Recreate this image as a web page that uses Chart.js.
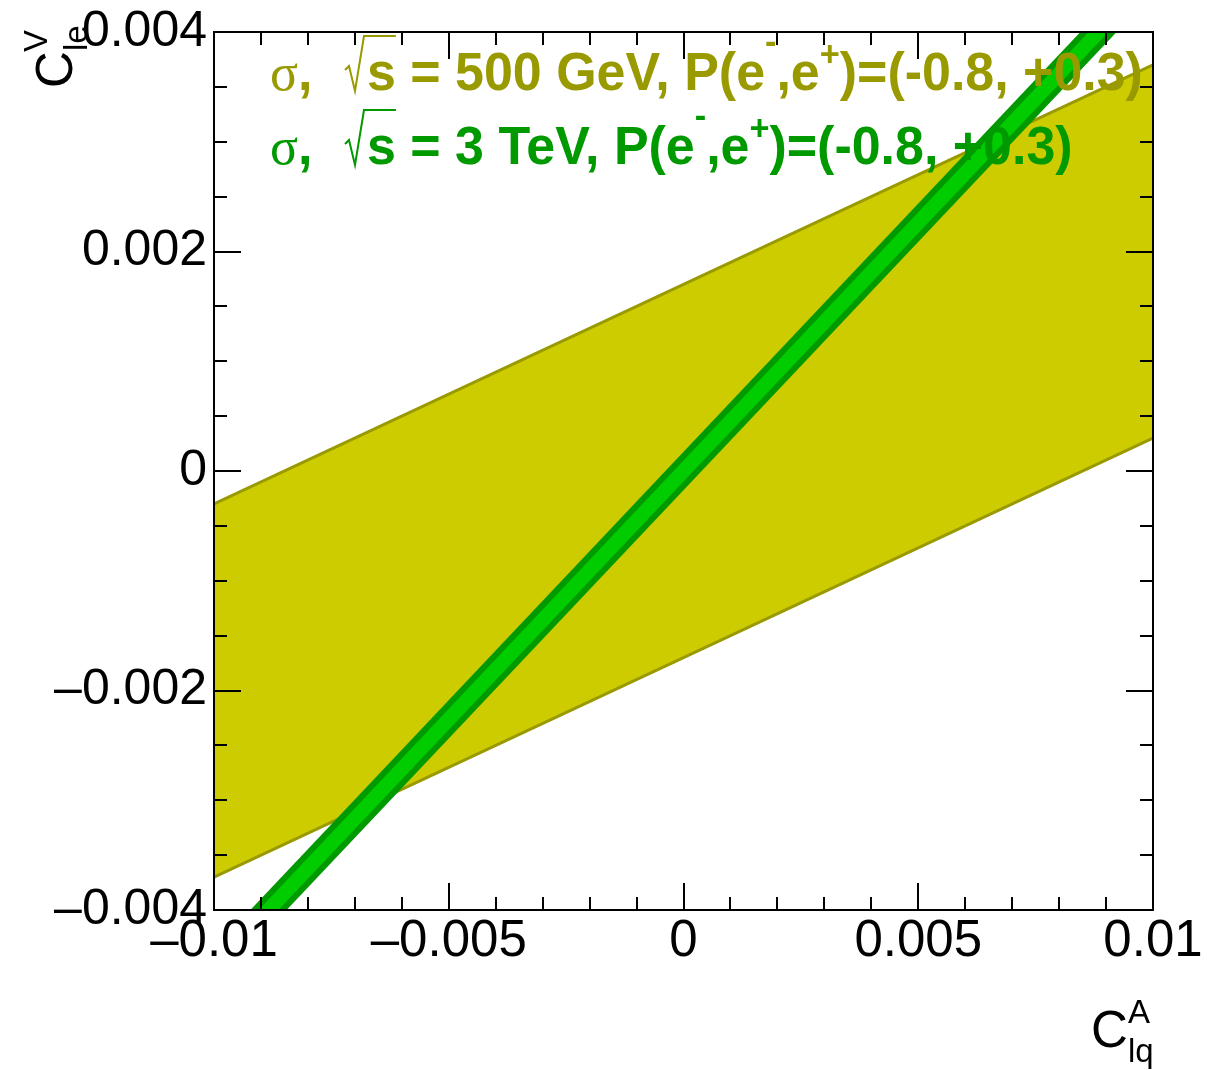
<!DOCTYPE html>
<html>
<head>
<meta charset="utf-8">
<script src="https://cdn.jsdelivr.net/npm/chart.js@4"></script>
<style>
  html, body { margin: 0; padding: 0; background: #fff; }
  #wrap { width: 1231px; height: 1070px; }
</style>
</head>
<body>
<div id="wrap"><canvas id="myChart" width="1231" height="1070"></canvas></div>
<script>
// edges of the two allowed bands, sampled at the x-axis limits
const edgeX = [-0.01, 0.01];
const band500Upper = [-0.0003, 0.0037];
const band500Lower = [-0.0037, 0.0003];
const band3TeVUpper = [-0.00439, 0.00466];
const band3TeVLower = [-0.00466, 0.00439];

const xTickValues = [-0.01, -0.005, 0, 0.005, 0.01];
const yTickValues = [-0.004, -0.002, 0, 0.002, 0.004];
const xMinorStep = 0.001;
const yMinorStep = 0.0005;

const OLIVE = '#999900';
const YELLOW = '#cccc00';
const DKGREEN = '#009900';
const GREEN = '#00cc00';

function pts(ys) {
  return edgeX.map((x, i) => ({ x: x, y: ys[i] }));
}

function fmt(v) {
  if (v === 0) return '0';
  return v < 0 ? '\u2013' + String(-v) : String(v);
}

const SANS = '"Liberation Sans", Arial, sans-serif';
const SERIF = '"Liberation Serif", "Times New Roman", serif';
const SX = 0.98; // legend text is a touch condensed

// draw text squeezed horizontally, return the width used
function put(ctx, txt, x, y, font) {
  ctx.font = font;
  ctx.save();
  ctx.translate(x, y);
  ctx.scale(SX, 1);
  ctx.fillText(txt, 0, 0);
  ctx.restore();
  return ctx.measureText(txt).width * SX;
}

// ROOT-like frame with ticks on all four sides, pointing inwards
const frame = {
  id: 'frame',
  afterDatasetsDraw(chart) {
    const { ctx, chartArea: a, scales: { x, y } } = chart;
    ctx.save();
    ctx.strokeStyle = '#000';
    ctx.lineWidth = 2;
    ctx.strokeRect(a.left, a.top, a.right - a.left, a.bottom - a.top);
    ctx.beginPath();
    for (let i = 0; i <= 20; i++) {
      const v = -0.01 + i * xMinorStep;
      const px = Math.round(x.getPixelForValue(v));
      const major = xTickValues.some(t => Math.abs(t - v) < 1e-9);
      const len = major ? 27 : 13;
      ctx.moveTo(px, a.bottom); ctx.lineTo(px, a.bottom - len);
      ctx.moveTo(px, a.top); ctx.lineTo(px, a.top + len);
    }
    for (let i = 0; i <= 16; i++) {
      const v = -0.004 + i * yMinorStep;
      const py = Math.round(y.getPixelForValue(v));
      const major = yTickValues.some(t => Math.abs(t - v) < 1e-9);
      const len = major ? 27 : 13;
      ctx.moveTo(a.left, py); ctx.lineTo(a.left + len, py);
      ctx.moveTo(a.right, py); ctx.lineTo(a.right - len, py);
    }
    ctx.stroke();
    ctx.restore();
  },
  afterDraw(chart) {
    const ctx = chart.ctx;
    ctx.save();
    ctx.textBaseline = 'alphabetic';
    ctx.textAlign = 'left';
    legendLine(ctx, OLIVE, 90, ' = 500 GeV, P(e');
    legendLine(ctx, DKGREEN, 164, ' = 3 TeV, P(e');

    // x title  C_lq^A
    ctx.fillStyle = '#000';
    ctx.font = '51px ' + SANS;
    ctx.fillText('C', 1091, 1047);
    ctx.font = '33px ' + SANS;
    ctx.fillText('A', 1128, 1023);
    ctx.fillText('lq', 1128, 1062);

    // y title  C_le^V (rotated)
    ctx.translate(72, 88);
    ctx.rotate(-Math.PI / 2);
    ctx.font = '51px ' + SANS;
    ctx.fillText('C', 0, 0);
    ctx.font = '33px ' + SANS;
    ctx.fillText('le', 37, 15);
    ctx.fillText('V', 36, -25);
    ctx.restore();
  }
};

function legendLine(ctx, color, base, middle) {
  const bold = 'bold 53px ' + SANS;
  const sup = 'bold 35px ' + SANS;
  ctx.fillStyle = color;
  ctx.strokeStyle = color;
  let x = 270;
  ctx.font = '52px ' + SERIF;
  ctx.fillText('\u03c3', x, base);
  x += ctx.measureText('\u03c3').width;
  put(ctx, ',', x, base, bold);

  // square-root sign over "s"
  const rx = 345;
  ctx.font = bold;
  const sw = ctx.measureText('s').width * SX;
  ctx.lineWidth = 2;
  ctx.beginPath();
  ctx.moveTo(rx, base - 20);
  ctx.lineTo(rx + 4, base - 24);
  ctx.lineTo(rx + 10, base + 1);
  ctx.lineTo(rx + 19, base - 54);
  ctx.lineTo(rx + 22 + sw, base - 54);
  ctx.stroke();

  x = rx + 22;
  x += put(ctx, 's' + middle, x, base, bold);
  x += put(ctx, '-', x, base - 37, sup);
  x += put(ctx, ',e', x, base, bold);
  x += put(ctx, '+', x, base - 24, sup);
  put(ctx, ')=(-0.8, +0.3)', x, base, bold);
}

const ctx = document.getElementById('myChart');
const myChart = new Chart(ctx, {
  type: 'scatter',
  data: {
    datasets: [
      { data: pts(band3TeVUpper), showLine: true, borderColor: DKGREEN, borderWidth: 6,
        pointRadius: 0, fill: false, clip: 0, order: 0 },
      { data: pts(band3TeVLower), showLine: true, borderColor: DKGREEN, borderWidth: 6,
        backgroundColor: GREEN, pointRadius: 0, fill: '-1', clip: 0, order: 0 },
      { data: pts(band500Upper), showLine: true, borderColor: OLIVE, borderWidth: 3,
        pointRadius: 0, fill: false, clip: 0, order: 1 },
      { data: pts(band500Lower), showLine: true, borderColor: OLIVE, borderWidth: 3,
        backgroundColor: YELLOW, pointRadius: 0, fill: '-1', clip: 0, order: 1 }
    ]
  },
  options: {
    responsive: false,
    animation: false,
    devicePixelRatio: 1,
    layout: { padding: { top: 30, right: 78, bottom: 0, left: 0 } },
    plugins: { legend: { display: false }, tooltip: { enabled: false } },
    scales: {
      x: {
        type: 'linear', min: -0.01, max: 0.01,
        afterBuildTicks: s => { s.ticks = xTickValues.map(v => ({ value: v })); },
        afterFit: s => { s.height = 160; },
        grid: { display: false, drawTicks: false },
        border: { display: false },
        ticks: { callback: fmt, color: '#000', padding: 6, maxRotation: 0, autoSkip: false,
                 font: { family: SANS, size: 51, lineHeight: 1 } }
      },
      y: {
        type: 'linear', min: -0.004, max: 0.004,
        afterBuildTicks: s => { s.ticks = yTickValues.map(v => ({ value: v })); },
        afterFit: s => { s.width = 214; },
        grid: { display: false, drawTicks: false },
        border: { display: false },
        ticks: { callback: fmt, color: '#000', padding: 7, autoSkip: false,
                 font: { family: SANS, size: 50, lineHeight: 1 } }
      }
    }
  },
  plugins: [frame]
});
</script>
</body>
</html>
